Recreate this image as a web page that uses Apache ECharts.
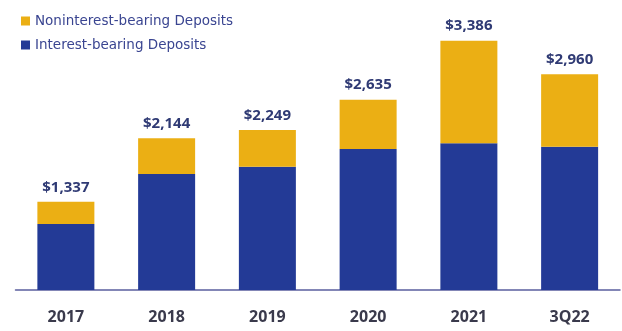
<!DOCTYPE html>
<html>
<head>
<meta charset="utf-8">
<script src="https://cdn.jsdelivr.net/npm/echarts@6/dist/echarts.min.js"></script>
<style>
  html, body { margin: 0; padding: 0; background: #ffffff; }
  #chart { width: 622px; height: 331px; }
</style>
</head>
<body>
<div id="chart"></div>
<script>
// Deposits by year, $ millions
const categories = ['2017', '2018', '2019', '2020', '2021', '3Q22'];
const totals = [1337, 2144, 2249, 2635, 3386, 2960];
const interestBearing = [1053, 1690, 1782, 2008, 2080, 2037];
const nonInterestBearing = totals.map((t, i) => t - interestBearing[i]);

const fmt = v => '$' + v.toLocaleString('en-US');

const chart = echarts.init(document.getElementById('chart'), null, { renderer: 'canvas' });
chart.setOption({
  animation: false,
  backgroundColor: '#ffffff',
  textStyle: { fontFamily: 'Open Sans' },
  legend: {
    orient: 'vertical',
    left: 16,
    top: 9,
    itemWidth: 9,
    itemHeight: 9,
    itemGap: 10,
    icon: 'rect',
    textStyle: { color: '#3a4591', fontSize: 13.5, fontFamily: 'DejaVu Sans' },
    data: ['Noninterest-bearing Deposits', 'Interest-bearing Deposits']
  },
  grid: { left: 15.5, right: 2, top: 1, bottom: 41 },
  xAxis: {
    type: 'category',
    data: categories,
    axisLine: { lineStyle: { color: '#5b5f9e', width: 1.5 } },
    axisTick: { show: false },
    axisLabel: {
      color: '#3a3a4c',
      fontWeight: 'bold',
      fontSize: 16,
      margin: 19,
      fontFamily: 'Open Sans'
    }
  },
  yAxis: {
    type: 'value',
    min: 214,
    max: 3891,
    show: false,
    splitLine: { show: false }
  },
  series: [
    {
      name: 'Interest-bearing Deposits',
      type: 'bar',
      stack: 'deposits',
      barWidth: 57,
      data: interestBearing,
      itemStyle: { color: '#233a96' }
    },
    {
      name: 'Noninterest-bearing Deposits',
      type: 'bar',
      stack: 'deposits',
      barWidth: 57,
      data: nonInterestBearing,
      itemStyle: { color: '#ebaf14' },
      label: {
        show: true,
        position: 'top',
        distance: 7,
        formatter: p => fmt(totals[p.dataIndex]),
        color: '#2f3a74',
        fontWeight: 'bold',
        fontSize: 15,
        fontFamily: 'Open Sans'
      }
    }
  ]
});
</script>
</body>
</html>
